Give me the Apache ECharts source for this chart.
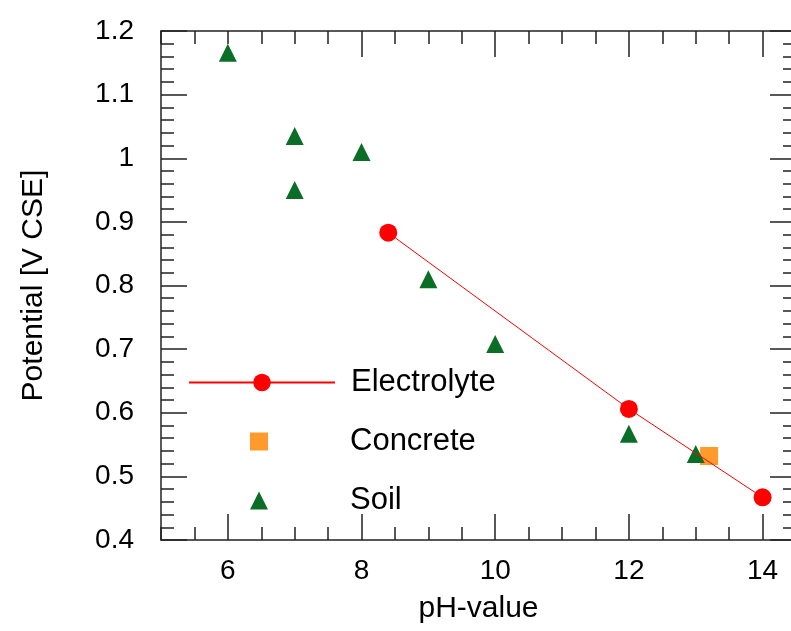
<!DOCTYPE html>
<html>
<head>
<meta charset="utf-8">
<script src="https://cdn.jsdelivr.net/npm/echarts@6/dist/echarts.min.js"></script>
<style>
html,body{margin:0;padding:0;background:#fff;}
#chart{width:791px;height:631px;}
</style>
</head>
<body>
<div id="chart"></div>
<script>
// ---- data ----
const electrolytePH = [8.4, 12, 14];
const electrolyteV = [0.883, 0.606, 0.467];
const concretePH = [13.2];
const concreteV = [0.532];
const soilPH = [6, 7, 7, 8, 9, 10, 12, 13];
const soilV = [1.166, 1.035, 0.95, 1.01, 0.81, 0.708, 0.567, 0.535];
const xMajorBottom = [6, 8, 10, 12, 14];
const xMajorTop = [8, 10, 12, 14];
const seriesNames = ['Electrolyte', 'Concrete', 'Soil'];
const xName = 'pH-value';
const yName = 'Potential [V CSE]';

const FONT = 'Liberation Sans, Arial, Helvetica, sans-serif';
const AX = '#222';
const zip = (a, b) => a.map((v, i) => [v, b[i]]);

const chart = echarts.init(document.getElementById('chart'), null, {renderer: 'canvas'});
const gridRect = {left: 161, top: 31, width: 635, height: 509, outerBoundsMode: 'none', containLabel: false};

function minorX(pos, showLabel) {
  return {
    gridIndex: 0, type: 'value', position: pos, min: 5, max: 14.5, interval: 0.5,
    axisLine: {show: true, onZero: false, lineStyle: {color: AX, width: 1.5}},
    axisTick: {show: true, inside: true, length: 13, lineStyle: {color: AX, width: 1.5}},
    splitLine: {show: false},
    axisLabel: {
      show: showLabel, margin: 17, color: '#000', fontSize: 28, fontFamily: FONT,
      formatter: v => (Math.abs(v % 2) < 1e-9 && v > 5 && v < 14.5) ? String(v) : ''
    },
    name: showLabel ? xName : '', nameLocation: 'middle', nameGap: 54,
    nameTextStyle: {color: '#000', fontSize: 30, fontFamily: FONT}
  };
}
function majorX(pos, vals) {
  return {
    gridIndex: 1, type: 'value', position: pos, min: 5, max: 14.5,
    axisLine: {show: false, onZero: false},
    axisTick: {show: true, inside: true, length: 26, customValues: vals, lineStyle: {color: AX, width: 1.5}},
    axisLabel: {show: false, customValues: vals},
    splitLine: {show: false}
  };
}
function minorY(pos, showLabel) {
  return {
    gridIndex: 0, type: 'value', position: pos, min: 0.4, max: 1.2, interval: 0.02,
    axisLine: {show: true, onZero: false, lineStyle: {color: AX, width: 1.5}},
    axisTick: {show: true, inside: true, length: 13, lineStyle: {color: AX, width: 1.5}},
    splitLine: {show: false},
    axisLabel: {
      show: showLabel, margin: 27, color: '#000', fontSize: 28, fontFamily: FONT,
      formatter: v => {
        const t = v * 10;
        return Math.abs(t - Math.round(t)) < 1e-6 ? String(Math.round(t) / 10) : '';
      }
    },
    name: showLabel ? yName : '', nameLocation: 'middle', nameGap: 112,
    nameTextStyle: {color: '#000', fontSize: 30, fontFamily: FONT}
  };
}
function majorY(pos) {
  return {
    gridIndex: 1, type: 'value', position: pos, min: 0.4, max: 1.2, interval: 0.1,
    axisLine: {show: false, onZero: false},
    axisTick: {show: true, inside: true, length: 26, lineStyle: {color: AX, width: 1.5}},
    axisLabel: {show: false},
    splitLine: {show: false}
  };
}

function legendFor(name, left, top, w, h, pad) {
  return {
    data: [name], left: left, top: top, orient: 'vertical', padding: 0,
    itemWidth: w, itemHeight: h, selectedMode: false,
    textStyle: {color: '#000', fontSize: 31, lineHeight: 30, fontFamily: FONT, padding: [0, 0, 0, pad]}
  };
}

const option = {
  animation: false,
  backgroundColor: '#fff',
  grid: [Object.assign({}, gridRect), Object.assign({}, gridRect)],
  xAxis: [minorX('bottom', true), minorX('top', false), majorX('bottom', xMajorBottom), majorX('top', xMajorTop)],
  yAxis: [minorY('left', true), minorY('right', false), majorY('left'), majorY('right')],
  legend: [
    legendFor(seriesNames[0], 188, 367, 146, 22, 11),
    legendFor(seriesNames[1], 250, 426, 18, 18, 77),
    legendFor(seriesNames[2], 250, 485, 18, 18, 77)
  ],
  series: [
    {
      name: seriesNames[0], type: 'line', xAxisIndex: 0, yAxisIndex: 0,
      data: zip(electrolytePH, electrolyteV),
      symbol: 'circle', symbolSize: 18,
      itemStyle: {color: '#ff0000', opacity: 1},
      lineStyle: {color: '#ff0000', width: 1}
    },
    {
      name: seriesNames[1], type: 'scatter', xAxisIndex: 0, yAxisIndex: 0,
      data: zip(concretePH, concreteV),
      symbol: 'rect', symbolSize: 18,
      itemStyle: {color: '#ff9a2c', opacity: 1}
    },
    {
      name: seriesNames[2], type: 'scatter', xAxisIndex: 0, yAxisIndex: 0,
      data: zip(soilPH, soilV),
      symbol: 'triangle', symbolSize: 18,
      itemStyle: {color: '#0b6e27', opacity: 1}
    }
  ]
};
chart.setOption(option);
</script>
</body>
</html>
